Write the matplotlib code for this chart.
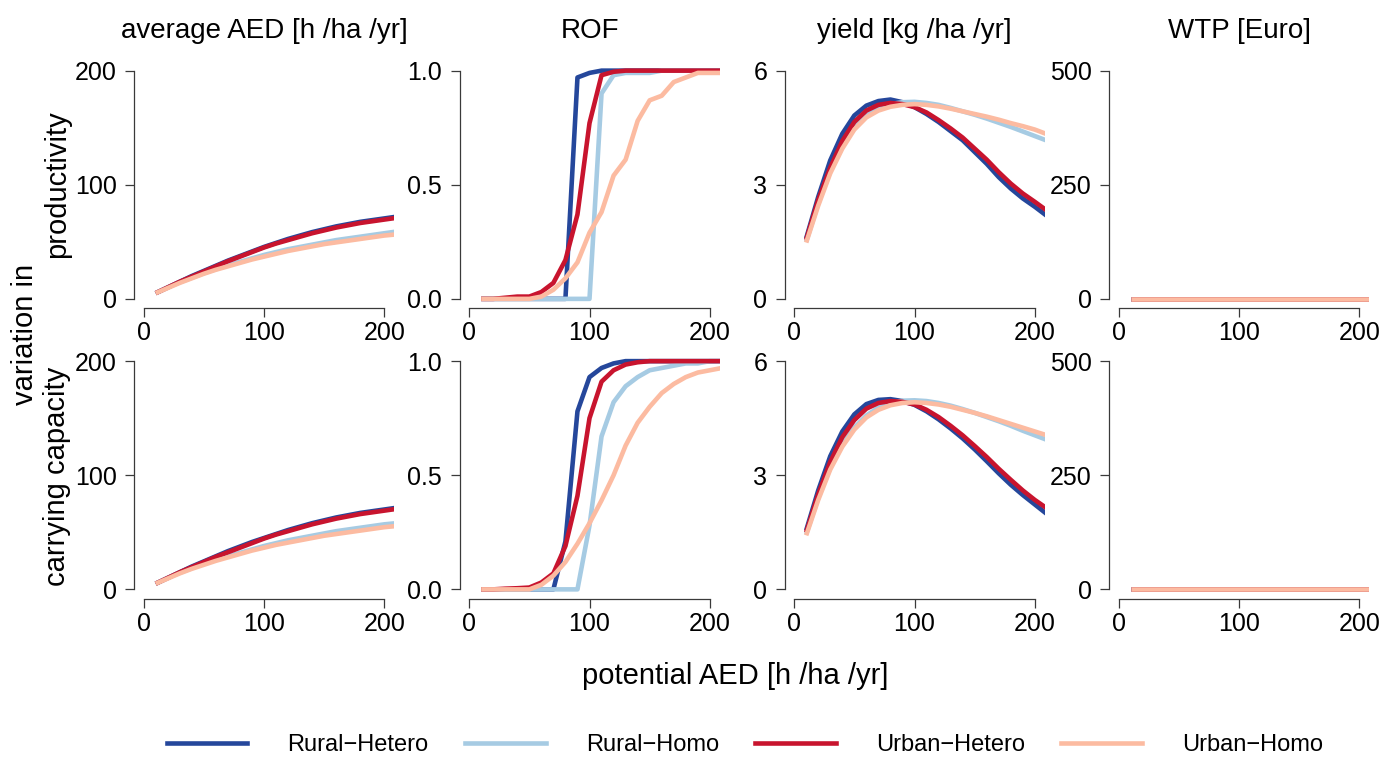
import matplotlib
matplotlib.use("Agg")
import matplotlib.pyplot as plt
from matplotlib.lines import Line2D

plt.rcParams["font.family"] = ["Liberation Sans", "DejaVu Sans"]

# potential AED grid [h /ha /yr]
pot_aed = [10, 20, 30, 40, 50, 60, 70, 80, 90, 100, 110,
           120, 130, 140, 150, 160, 170, 180, 190, 200, 210]

groups = ["Rural\u2212Hetero", "Rural\u2212Homo", "Urban\u2212Hetero", "Urban\u2212Homo"]
colors = ["#25479B", "#A6CBE3", "#C8142E", "#FCBBA1"]

columns = ["average AED [h /ha /yr]", "ROF", "yield [kg /ha /yr]", "WTP [Euro]"]
rows = ["productivity", "carrying capacity"]

# --- variation in productivity ---
aed_prod_rur_het = [5, 10, 15, 20, 24.5, 29, 33.5, 37.5, 41.5, 45.5, 49, 52.5, 55.5, 58.5, 61, 63.5, 65.5, 67.5, 69, 70.5, 72]
aed_prod_rur_hom = [5, 10, 14.5, 18.5, 22.5, 26, 29.5, 32.5, 35.5, 38.5, 41, 43.5, 45.5, 47.5, 49.5, 51.5, 53, 54.5, 56, 57.5, 59]
aed_prod_urb_het = [5, 10, 15, 19.5, 24, 28.5, 33, 37, 41, 45, 48.5, 51.5, 54.5, 57.5, 60, 62.5, 64.5, 66.5, 68, 69.5, 71]
aed_prod_urb_hom = [5, 9.5, 14, 18, 22, 25.5, 28.5, 31.5, 34.5, 37, 39.5, 42, 44, 46, 48, 49.5, 51, 52.5, 54, 55.5, 56.5]

rof_prod_rur_het = [0, 0, 0, 0, 0, 0, 0, 0, 0.97, 0.99, 1, 1, 1, 1, 1, 1, 1, 1, 1, 1, 1]
rof_prod_rur_hom = [0, 0, 0, 0, 0, 0, 0, 0, 0, 0, 0.9, 0.98, 0.99, 0.99, 0.99, 1, 1, 1, 1, 1, 1]
rof_prod_urb_het = [0, 0, 0.005, 0.01, 0.01, 0.03, 0.07, 0.17, 0.37, 0.77, 0.98, 0.995, 1, 1, 1, 1, 1, 1, 1, 1, 1]
rof_prod_urb_hom = [0, 0, 0, 0, 0, 0.01, 0.04, 0.09, 0.16, 0.29, 0.38, 0.54, 0.61, 0.78, 0.87, 0.89, 0.95, 0.97, 0.99, 0.99, 0.99]

yld_prod_rur_het = [1.59, 2.68, 3.64, 4.34, 4.82, 5.08, 5.2, 5.24, 5.17, 5.04, 4.86, 4.65, 4.41, 4.17, 3.86, 3.55, 3.2, 2.9, 2.64, 2.42, 2.18]
yld_prod_rur_hom = [1.5, 2.5, 3.35, 4.0, 4.5, 4.82, 5.0, 5.12, 5.17, 5.18, 5.15, 5.1, 5.02, 4.93, 4.84, 4.74, 4.63, 4.52, 4.4, 4.28, 4.16]
yld_prod_urb_het = [1.55, 2.6, 3.45, 4.15, 4.65, 4.95, 5.1, 5.15, 5.12, 5.04, 4.9, 4.7, 4.48, 4.24, 3.95, 3.66, 3.33, 3.03, 2.77, 2.55, 2.32]
yld_prod_urb_hom = [1.48, 2.45, 3.3, 3.95, 4.45, 4.77, 4.95, 5.05, 5.1, 5.12, 5.1, 5.06, 5.0, 4.93, 4.86, 4.79, 4.71, 4.62, 4.54, 4.45, 4.33]

wtp_prod = [0, 0, 0, 0, 0, 0, 0, 0, 0, 0, 0, 0, 0, 0, 0, 0, 0, 0, 0, 0, 0]

# --- variation in carrying capacity ---
aed_cap_rur_het = [5, 10, 15, 20, 24.5, 29, 33.5, 37.5, 41.5, 45, 48.5, 52, 55, 58, 60.5, 63, 65, 67, 68.5, 70, 71.5]
aed_cap_rur_hom = [5, 10, 14.5, 18.5, 22.5, 26, 29, 32, 35, 38, 40.5, 43, 45, 47, 49, 51, 52.5, 54, 55.5, 57, 58]
aed_cap_urb_het = [5, 10, 15, 19.5, 24, 28.5, 32.5, 36.5, 40.5, 44.5, 48, 51, 54, 57, 59.5, 62, 64, 66, 67.5, 69, 70.5]
aed_cap_urb_hom = [5, 9.5, 14, 18, 21.5, 25, 28, 31, 34, 36.5, 39, 41, 43, 45, 47, 48.5, 50, 51.5, 53, 54.5, 55.5]

rof_cap_rur_het = [0, 0, 0, 0, 0, 0, 0, 0.21, 0.78, 0.93, 0.97, 0.99, 1, 1, 1, 1, 1, 1, 1, 1, 1]
rof_cap_rur_hom = [0, 0, 0, 0, 0, 0, 0, 0, 0, 0.28, 0.67, 0.82, 0.89, 0.93, 0.96, 0.97, 0.98, 0.99, 0.99, 1, 1]
rof_cap_urb_het = [0, 0, 0.003, 0.005, 0.008, 0.03, 0.07, 0.19, 0.41, 0.75, 0.91, 0.96, 0.985, 0.995, 1, 1, 1, 1, 1, 1, 1]
rof_cap_urb_hom = [0, 0, 0, 0, 0, 0.02, 0.06, 0.12, 0.2, 0.29, 0.39, 0.5, 0.63, 0.73, 0.8, 0.86, 0.9, 0.93, 0.95, 0.96, 0.97]

yld_cap_rur_het = [1.55, 2.6, 3.5, 4.15, 4.6, 4.87, 4.98, 5.0, 4.95, 4.85, 4.68, 4.47, 4.23, 3.97, 3.68, 3.37, 3.05, 2.75, 2.48, 2.23, 1.98]
yld_cap_rur_hom = [1.45, 2.4, 3.2, 3.8, 4.25, 4.57, 4.78, 4.9, 4.96, 4.97, 4.95, 4.9, 4.83, 4.74, 4.64, 4.53, 4.42, 4.3, 4.17, 4.05, 3.93]
yld_cap_urb_het = [1.5, 2.5, 3.35, 4.0, 4.45, 4.75, 4.9, 4.95, 4.93, 4.86, 4.72, 4.53, 4.3, 4.05, 3.77, 3.48, 3.17, 2.88, 2.6, 2.35, 2.13]
yld_cap_urb_hom = [1.42, 2.35, 3.15, 3.75, 4.2, 4.52, 4.72, 4.84, 4.9, 4.92, 4.9, 4.86, 4.8, 4.72, 4.64, 4.55, 4.45, 4.35, 4.25, 4.15, 4.05]

wtp_cap = [0, 0, 0, 0, 0, 0, 0, 0, 0, 0, 0, 0, 0, 0, 0, 0, 0, 0, 0, 0, 0]

panels = [
    [[aed_prod_rur_het, aed_prod_rur_hom, aed_prod_urb_het, aed_prod_urb_hom],
     [rof_prod_rur_het, rof_prod_rur_hom, rof_prod_urb_het, rof_prod_urb_hom],
     [yld_prod_rur_het, yld_prod_rur_hom, yld_prod_urb_het, yld_prod_urb_hom],
     [wtp_prod, wtp_prod, wtp_prod, wtp_prod]],
    [[aed_cap_rur_het, aed_cap_rur_hom, aed_cap_urb_het, aed_cap_urb_hom],
     [rof_cap_rur_het, rof_cap_rur_hom, rof_cap_urb_het, rof_cap_urb_hom],
     [yld_cap_rur_het, yld_cap_rur_hom, yld_cap_urb_het, yld_cap_urb_hom],
     [wtp_cap, wtp_cap, wtp_cap, wtp_cap]],
]

y_ticks = [[0, 100, 200], [0, 0.5, 1.0], [0, 3, 6], [0, 250, 500]]
y_fmt = ["{:.0f}", "{:.1f}", "{:.0f}", "{:.0f}"]
x_ticks = [0, 100, 200]

W, H = 1400, 759
fig = plt.figure(figsize=(W / 100, H / 100), dpi=100)

col_left = [134, 459.5, 784.5, 1109]
col_w = 260
row_top = [61.5, 352]
row_h = 246.5

axis_col = "#3a3a3a"

for r in range(2):
    for c in range(4):
        ax = fig.add_axes([col_left[c] / W, 1 - (row_top[r] + row_h) / H,
                           col_w / W, row_h / H])
        for k in range(4):
            ax.plot(pot_aed, panels[r][c][k], color=colors[k], lw=3.3,
                    solid_capstyle="butt", solid_joinstyle="round")
        # R-style axes: 4% padding, axis lines span first to last tick
        lo, hi = y_ticks[c][0], y_ticks[c][-1]
        pad = 0.04 * (hi - lo)
        ax.set_ylim(lo - pad, hi + pad)
        ax.set_xlim(-8, 208)
        ax.set_yticks(y_ticks[c])
        ax.set_yticklabels([y_fmt[c].format(v) for v in y_ticks[c]])
        ax.set_xticks(x_ticks)
        ax.spines["top"].set_visible(False)
        ax.spines["right"].set_visible(False)
        ax.spines["left"].set_bounds(lo, hi)
        ax.spines["bottom"].set_bounds(0, 200)
        for s in ("left", "bottom"):
            ax.spines[s].set_color(axis_col)
            ax.spines[s].set_linewidth(0.9)
        ax.tick_params(axis="both", direction="out", length=6.5, width=0.9,
                       color=axis_col, labelsize=18)
        ax.tick_params(axis="y", pad=6)
        ax.tick_params(axis="x", pad=3)
        if r == 0:
            ax.set_title(columns[c], fontsize=20, pad=17)

# row labels
fig.text(57 / W, 1 - 184.5 / H, rows[0], rotation=90, fontsize=21,
         ha="center", va="center")
fig.text(57 / W, 1 - 476 / H, rows[1], rotation=90, fontsize=21,
         ha="center", va="center")
fig.text(25 / W, 1 - 334 / H, "variation in", rotation=90, fontsize=21,
         ha="center", va="center")

fig.text(735 / W, 1 - 676 / H, "potential AED [h /ha /yr]", fontsize=21,
         ha="center", va="center")

handles = [Line2D([], [], color=colors[k], lw=3.3) for k in range(4)]
fig.legend(handles, groups, loc="center", bbox_to_anchor=(745 / W, 1 - 745 / H),
           ncol=4, frameon=False, fontsize=17, handlelength=3.4,
           handletextpad=1.7, columnspacing=1.55)

fig.savefig("out.png", dpi=100)
